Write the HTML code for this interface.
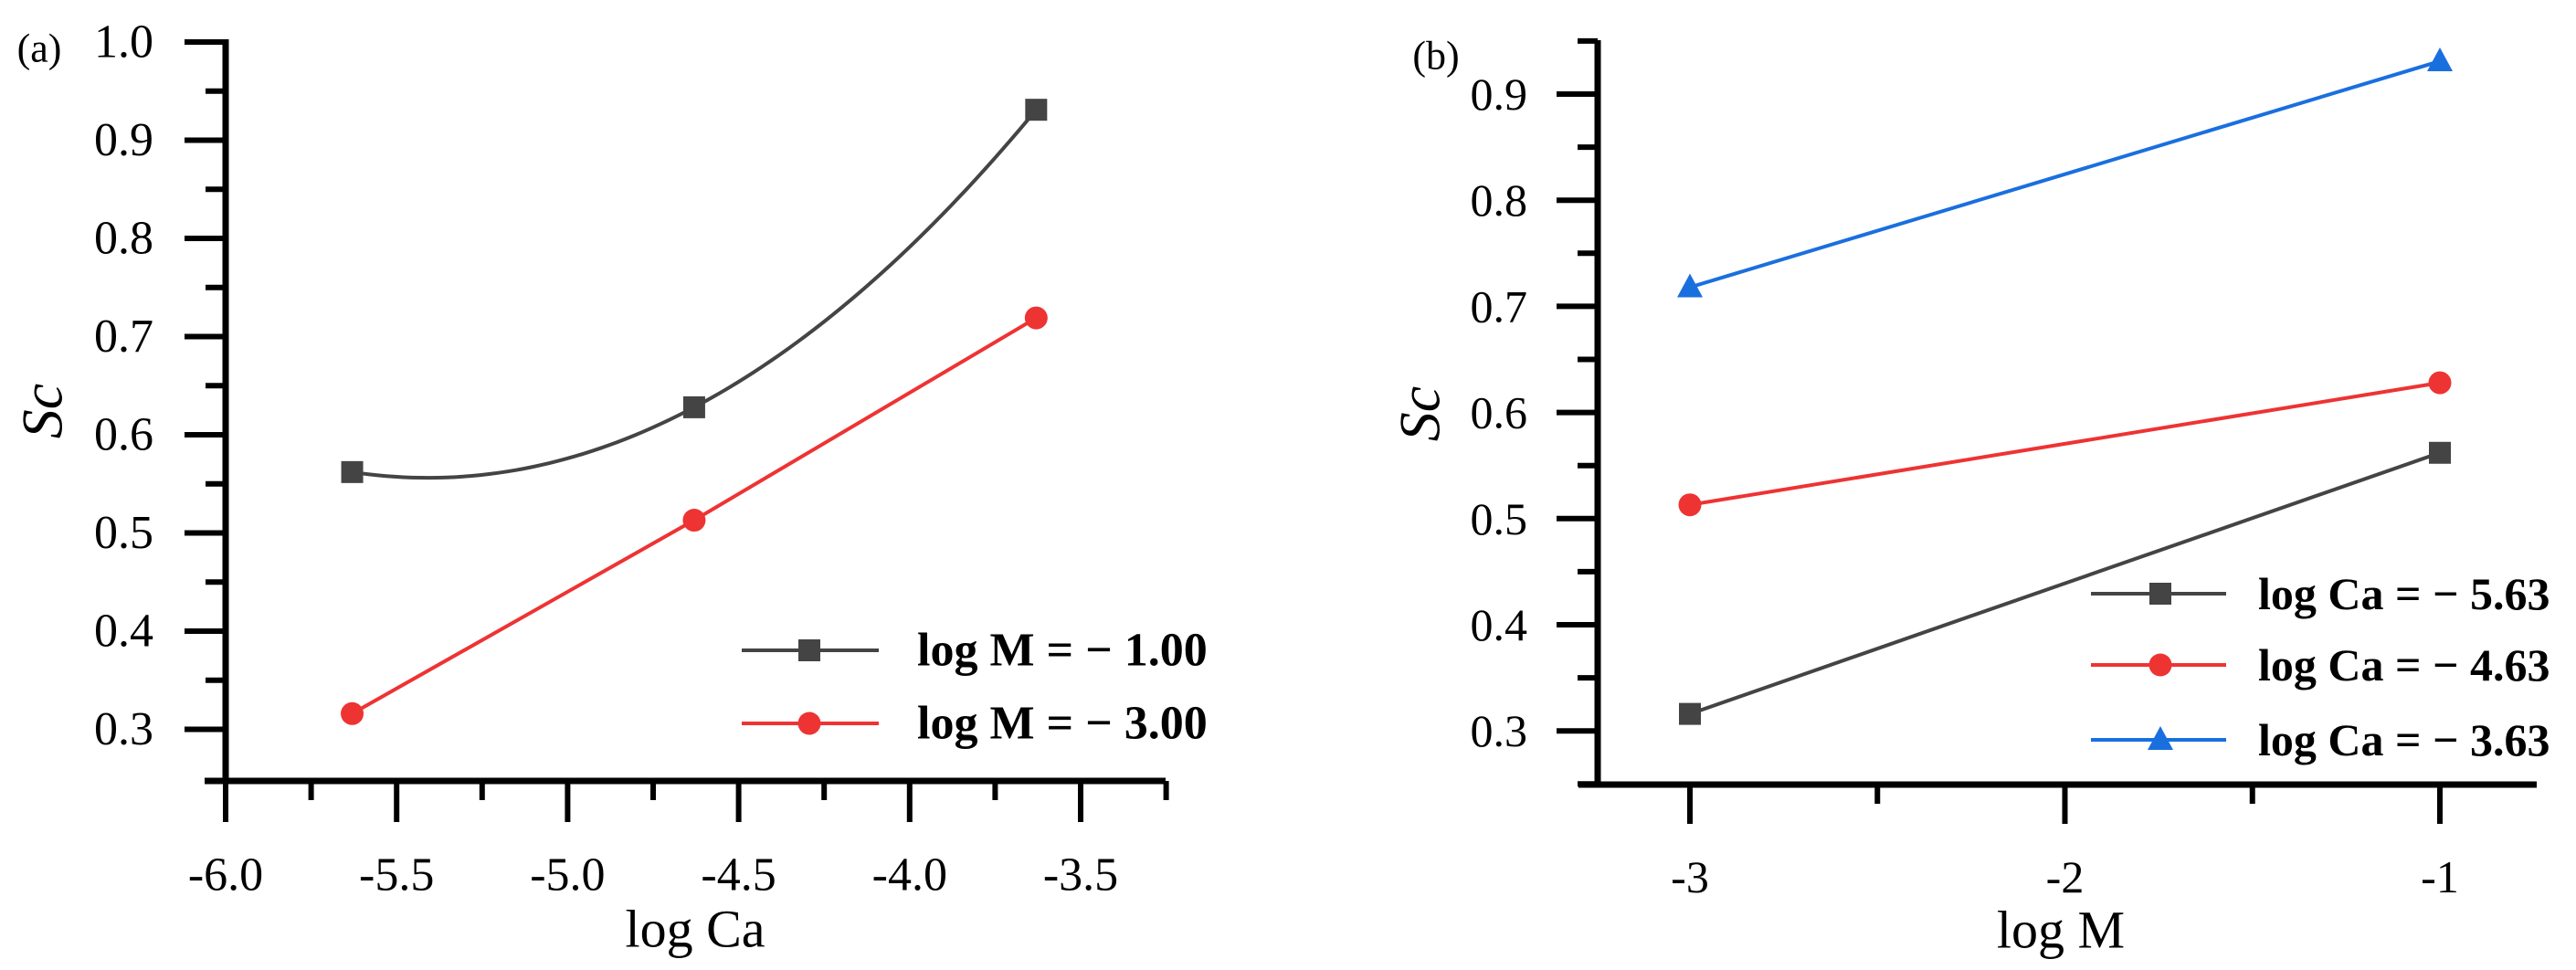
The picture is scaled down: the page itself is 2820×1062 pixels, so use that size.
<!DOCTYPE html>
<html><head><meta charset="utf-8">
<style>
html,body{margin:0;padding:0;background:#fff;}
svg{display:block;}
text{font-family:"Liberation Serif",serif;fill:#000;}
</style></head>
<body>
<svg id="chart" width="2820" height="1062" viewBox="0 0 2820 1062" xmlns="http://www.w3.org/2000/svg"></svg>
<script>
// Panel (a) data
const aCategories = [-5.63, -4.63, -3.63];
const aSeriesM1 = [0.562, 0.628, 0.931];
const aSeriesM3 = [0.316, 0.513, 0.719];
const aYTicks = ["0.3","0.4","0.5","0.6","0.7","0.8","0.9","1.0"];
const aXTicks = ["-6.0","-5.5","-5.0","-4.5","-4.0","-3.5"];
const aLegend = ["log M = \u2212 1.00","log M = \u2212 3.00"];
// Panel (b) data
const bCategories = [-3, -1];
const bSeries563 = [0.316, 0.562];
const bSeries463 = [0.513, 0.628];
const bSeries363 = [0.718, 0.931];
const bYTicks = ["0.3","0.4","0.5","0.6","0.7","0.8","0.9"];
const bXTicks = ["-3","-2","-1"];
const bLegend = ["log Ca = \u2212 5.63","log Ca = \u2212 4.63","log Ca = \u2212 3.63"];

const NS="http://www.w3.org/2000/svg";
const svg=document.getElementById('chart');
function mk(tag,attrs,parent){const e=document.createElementNS(NS,tag);for(const k in attrs)e.setAttribute(k,attrs[k]);(parent||svg).appendChild(e);return e;}
function txt(s,x,y,size,anchor,parent,extra){const t=mk('text',Object.assign({x:x,y:y,'font-size':size,'text-anchor':anchor||'middle','dominant-baseline':'central'},extra||{}),parent);t.textContent=s;return t;}

function marker(type,x,y,color,g){
  let m;
  if(type==='square') m=mk('rect',{x:x-12,y:y-12,width:24,height:24,fill:color},g);
  else if(type==='circle') m=mk('circle',{cx:x,cy:y,r:12.5,fill:color},g);
  else m=mk('polygon',{points:`${x},${y-15} ${x+14},${y+11} ${x-14},${y+11}`,fill:color},g);
  return m;
}

// ---------- Panel A ----------
const ax=v=>247+(v+6)/0.5*187.2;
const ay=v=>46+(1.0-v)/0.1*107.5;
const gA=mk('g',{});


let t=txt('(a)',43,53,44,'middle',gA);

let e=mk('line',{x1:247,y1:43,x2:247,y2:858,stroke:'#000','stroke-width':7},gA);

e=mk('line',{x1:224,y1:855,x2:1276,y2:855,stroke:'#000','stroke-width':7},gA);

aYTicks.forEach((s,i)=>{
  const v=parseFloat(s),y=ay(v);
  mk('line',{x1:202,y1:y,x2:247,y2:y,stroke:'#000','stroke-width':6},gA);
  if(i<aYTicks.length-1) mk('line',{x1:225,y1:ay(v+0.05),x2:247,y2:ay(v+0.05),stroke:'#000','stroke-width':6},gA);
  const l=txt(s,168,y,52,'end',gA);
  
});
aXTicks.forEach((s,i)=>{
  const v=parseFloat(s),x=ax(v);
  mk('line',{x1:x,y1:855,x2:x,y2:900,stroke:'#000','stroke-width':6},gA);
  mk('line',{x1:ax(v+0.25),y1:855,x2:ax(v+0.25),y2:876,stroke:'#000','stroke-width':6},gA);
  const l=txt(s,x,958,52,'middle',gA);
  
});
t=txt('log Ca',761,1017,58,'middle',gA);

t=txt('Sc',46,450,64,'middle',gA,{'font-style':'italic',transform:'rotate(-90 46 450)'});


// smooth curve through the three points: quadratic (Lagrange) interpolation sampled
function lagrange(xs,ys,x){
  let s=0;
  for(let i=0;i<xs.length;i++){let p=ys[i];for(let j=0;j<xs.length;j++){if(j!==i)p*=(x-xs[j])/(xs[i]-xs[j]);}s+=p;}
  return s;
}
let dq='';
const x0=aCategories[0],x1=aCategories[aCategories.length-1];
for(let k=0;k<=80;k++){
  const xv=x0+(x1-x0)*k/80;
  dq+=(k?' L':'M')+ax(xv)+','+ay(lagrange(aCategories,aSeriesM1,xv));
}
e=mk('path',{d:dq,fill:'none',stroke:'#444','stroke-width':4},gA);

const ptsM1=aCategories.map((c,i)=>[ax(c),ay(aSeriesM1[i])]);
ptsM1.forEach(p=>{const m=marker('square',p[0],p[1],'#444',gA);});
const ptsM3=aCategories.map((c,i)=>[ax(c),ay(aSeriesM3[i])]);
e=mk('polyline',{points:ptsM3.map(p=>p.join(',')).join(' '),fill:'none',stroke:'#ee3333','stroke-width':4},gA);

ptsM3.forEach(p=>{const m=marker('circle',p[0],p[1],'#ee3333',gA);});
const aCols=['#444','#ee3333'],aMk=['square','circle'],aLy=[712,792];
aLegend.forEach((s,i)=>{
  const g=mk('g',{},gA);
  
  
  mk('line',{x1:812,y1:aLy[i],x2:962,y2:aLy[i],stroke:aCols[i],'stroke-width':4},g);
  marker(aMk[i],886,aLy[i],aCols[i],g);
  txt(s,1004,aLy[i],52,'start',g,{'font-weight':'bold'});
});

// ---------- Panel B ----------
const bx=v=>1850+(v+3)*410.5;
const by=v=>103+(0.9-v)/0.1*116.2;
const gB=mk('g',{});


t=txt('(b)',1572,61,44,'middle',gB);

e=mk('line',{x1:1749,y1:44,x2:1749,y2:862,stroke:'#000','stroke-width':7},gB);

e=mk('line',{x1:1728,y1:859,x2:2777,y2:859,stroke:'#000','stroke-width':7},gB);

bYTicks.forEach((s,i)=>{
  const v=parseFloat(s),y=by(v);
  mk('line',{x1:1704,y1:y,x2:1749,y2:y,stroke:'#000','stroke-width':6},gB);
  mk('line',{x1:1727,y1:by(v+0.05),x2:1749,y2:by(v+0.05),stroke:'#000','stroke-width':6},gB);
  const l=txt(s,1672,y,50,'end',gB);
  
});
mk('line',{x1:1727,y1:by(0.25),x2:1749,y2:by(0.25),stroke:'#000','stroke-width':6},gB);
bXTicks.forEach((s,i)=>{
  const v=parseFloat(s),x=bx(v);
  mk('line',{x1:x,y1:859,x2:x,y2:902,stroke:'#000','stroke-width':6},gB);
  if(i<bXTicks.length-1) mk('line',{x1:bx(v+0.5),y1:859,x2:bx(v+0.5),y2:880,stroke:'#000','stroke-width':6},gB);
  const l=txt(s,x,960,50,'middle',gB);
  
});
t=txt('log M',2256,1018,58,'middle',gB);

t=txt('Sc',1554,453,64,'middle',gB,{'font-style':'italic',transform:'rotate(-90 1554 453)'});


const bSeries=[bSeries563,bSeries463,bSeries363],bCols=['#444','#ee3333','#1a6fdf'],bMk=['square','circle','triangle'];
bSeries.forEach((ser,si)=>{
  const pts=bCategories.map((c,i)=>[bx(c),by(ser[i])]);
  const l=mk('polyline',{points:pts.map(p=>p.join(',')).join(' '),fill:'none',stroke:bCols[si],'stroke-width':4},gB);
  
  
  pts.forEach(p=>{const m=marker(bMk[si],p[0],p[1],bCols[si],gB);});
});
const bLy=[650,728,810];
bLegend.forEach((s,i)=>{
  const g=mk('g',{},gB);
  
  
  mk('line',{x1:2289,y1:bLy[i],x2:2437,y2:bLy[i],stroke:bCols[i],'stroke-width':4},g);
  marker(bMk[i],2365,bLy[i],bCols[i],g);
  txt(s,2472,bLy[i],50,'start',g,{'font-weight':'bold'});
});
</script>
</body></html>
